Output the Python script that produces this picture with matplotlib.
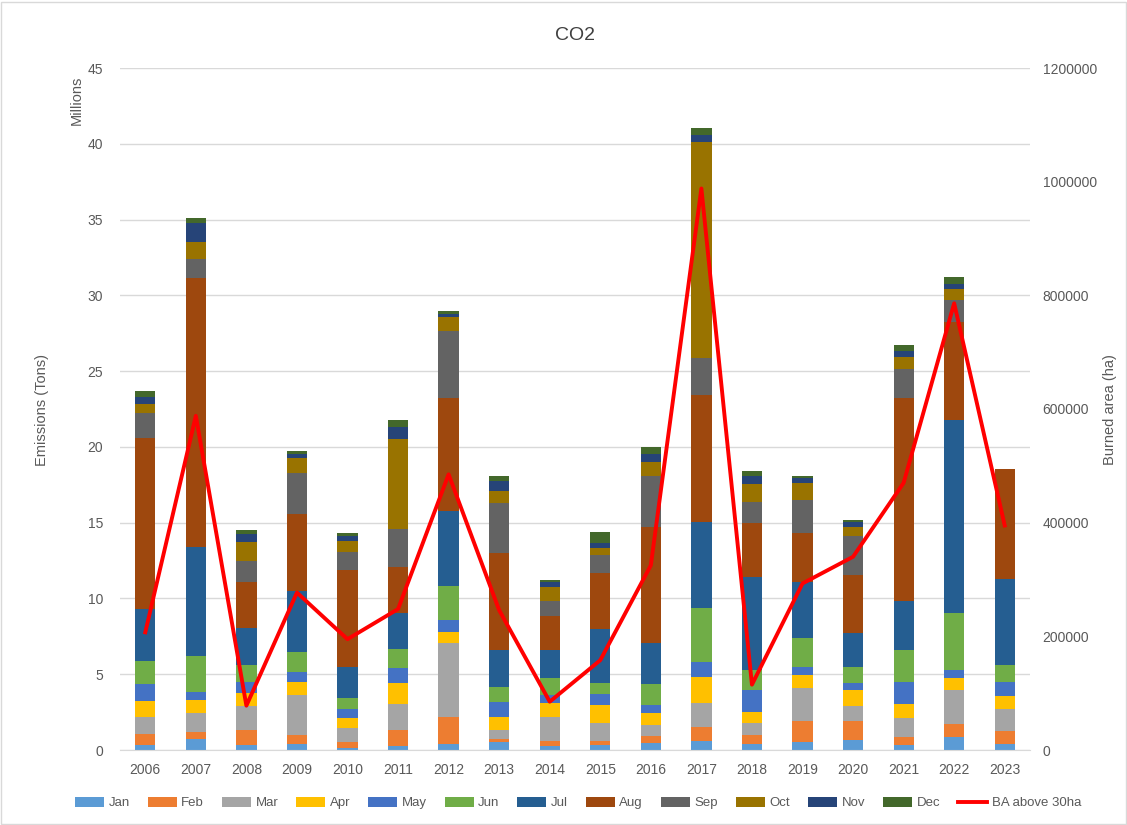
import matplotlib.pyplot as plt
import numpy as np
from matplotlib.patches import Rectangle

plt.rcParams['font.family'] = ['Liberation Sans', 'DejaVu Sans']

# 數據
years = ['2006', '2007', '2008', '2009', '2010', '2011', '2012', '2013', '2014',
         '2015', '2016', '2017', '2018', '2019', '2020', '2021', '2022', '2023']
months = ['Jan', 'Feb', 'Mar', 'Apr', 'May', 'Jun', 'Jul', 'Aug', 'Sep', 'Oct', 'Nov', 'Dec']

# emissions per month, millions of tons (one list per month, one value per year)
jan = [0.35, 0.71, 0.31, 0.40, 0.15, 0.26, 0.37, 0.55, 0.26, 0.30, 0.44, 0.57, 0.40, 0.53, 0.68, 0.31, 0.84, 0.37]
feb = [0.69, 0.45, 1.01, 0.59, 0.38, 1.06, 1.79, 0.15, 0.31, 0.28, 0.48, 0.93, 0.60, 1.41, 1.26, 0.53, 0.90, 0.88]
mar = [1.13, 1.25, 1.56, 2.64, 0.94, 1.74, 4.90, 0.62, 1.63, 1.19, 0.75, 1.62, 0.75, 2.15, 0.96, 1.25, 2.20, 1.43]
apr = [1.06, 0.89, 0.89, 0.85, 0.66, 1.34, 0.75, 0.84, 0.90, 1.21, 0.75, 1.67, 0.78, 0.84, 1.08, 0.94, 0.79, 0.88]
may = [1.11, 0.52, 0.69, 0.66, 0.58, 1.01, 0.79, 0.98, 0.51, 0.74, 0.57, 1.04, 1.46, 0.52, 0.46, 1.43, 0.55, 0.90]
jun = [1.53, 2.36, 1.15, 1.30, 0.70, 1.25, 2.24, 1.04, 1.16, 0.73, 1.36, 3.52, 1.29, 1.94, 1.01, 2.14, 3.78, 1.15]
jul = [3.42, 7.22, 2.43, 4.03, 2.04, 2.36, 4.93, 2.44, 1.85, 3.52, 2.73, 5.71, 6.12, 3.69, 2.27, 3.21, 12.71, 5.67]
aug = [11.28, 17.73, 3.07, 5.07, 6.40, 3.03, 7.46, 6.38, 2.20, 3.71, 7.61, 8.39, 3.59, 3.22, 3.83, 13.44, 6.49, 7.24]
sep = [1.69, 1.28, 1.37, 2.71, 1.21, 2.53, 4.40, 3.30, 0.99, 1.16, 3.41, 2.43, 1.40, 2.22, 2.57, 1.91, 1.43, 0]
oct_ = [0.57, 1.08, 1.27, 1.00, 0.71, 5.94, 0.94, 0.79, 0.94, 0.48, 0.88, 14.23, 1.18, 1.10, 0.59, 0.77, 0.70, 0]
nov = [0.45, 1.25, 0.47, 0.30, 0.37, 0.77, 0.22, 0.64, 0.31, 0.36, 0.55, 0.48, 0.54, 0.30, 0.31, 0.40, 0.36, 0]
dec = [0.42, 0.33, 0.31, 0.17, 0.16, 0.48, 0.15, 0.37, 0.16, 0.68, 0.48, 0.46, 0.27, 0.16, 0.13, 0.39, 0.44, 0]

# burned area above 30 ha
ba_above_30ha = [207000, 588000, 78000, 277000, 195000, 248000, 485000, 246000, 85000,
                 158000, 325000, 988000, 115000, 293000, 340000, 470000, 786000, 395000]

colors = ['#5B9BD5', '#ED7D31', '#A5A5A5', '#FFC000', '#4472C4', '#70AD47',
          '#255E91', '#9E480E', '#636363', '#997300', '#264478', '#43682B']

W, H = 1127, 825
fig = plt.figure(figsize=(W / 100, H / 100), dpi=100)
ax = fig.add_axes([120 / W, 1 - 750 / H, 910 / W, 682 / H])
ax2 = ax.twinx()

x = np.arange(len(years))
bottom = np.zeros(len(years))
for name, vals, c in zip(months, [jan, feb, mar, apr, may, jun, jul, aug, sep, oct_, nov, dec], colors):
    ax.bar(x, vals, width=0.4, bottom=bottom, color=c, label=name, zorder=2)
    bottom += np.array(vals)

ax2.plot(x, ba_above_30ha, color='#FF0000', linewidth=2.8, label='BA above 30ha', zorder=3)

tick_color = '#595959'
ax.set_xlim(-0.5, len(years) - 0.5)
ax.set_ylim(0, 45)
ax.set_yticks(np.arange(0, 46, 5))
ax.set_xticks(x)
ax.set_xticklabels(years)
ax.tick_params(axis='both', length=0, colors=tick_color, labelsize=10)
ax.tick_params(axis='y', pad=12)
ax.tick_params(axis='x', pad=9)
ax.yaxis.grid(True, color='#D9D9D9', linewidth=1, zorder=0)
ax.set_axisbelow(True)

ax2.set_ylim(0, 1200000)
ax2.set_yticks(np.arange(0, 1200001, 200000))
ax2.set_yticklabels([str(v) for v in range(0, 1200001, 200000)])
ax2.tick_params(axis='y', length=0, colors=tick_color, labelsize=10, pad=9)

for a in (ax, ax2):
    for s in a.spines.values():
        s.set_visible(False)
ax.spines['bottom'].set_visible(True)
ax.spines['bottom'].set_color('#D9D9D9')

# 標題與軸標籤
fig.text(575 / W, 1 - 35 / H, 'CO2', ha='center', va='center', fontsize=14, color='#404040')
fig.text(42 / W, 1 - 410 / H, 'Emissions (Tons)', rotation=90, ha='center', va='center', fontsize=10.5, color=tick_color)
fig.text(77 / W, 1 - 100 / H, 'Millions', rotation=90, ha='center', va='center', fontsize=10.5, color=tick_color)
fig.text(1110 / W, 1 - 410 / H, 'Burned area (ha)', rotation=90, ha='center', va='center', fontsize=10.5, color=tick_color)

# 圖例
h1, l1 = ax.get_legend_handles_labels()
h2, l2 = ax2.get_legend_handles_labels()
fig.legend(h1 + h2, l1 + l2, loc='center', bbox_to_anchor=(578 / W, 1 - 803 / H), ncol=13,
           frameon=False, fontsize=9.5, handlelength=2.2, handleheight=0.8,
           columnspacing=1.35, handletextpad=0.35, labelcolor=tick_color)

# chart border
fig.patches.append(Rectangle((0.001, 0.001), 0.998, 0.997, transform=fig.transFigure,
                             fill=False, edgecolor='#D9D9D9', linewidth=1))

fig.savefig('out.png', dpi=100)
